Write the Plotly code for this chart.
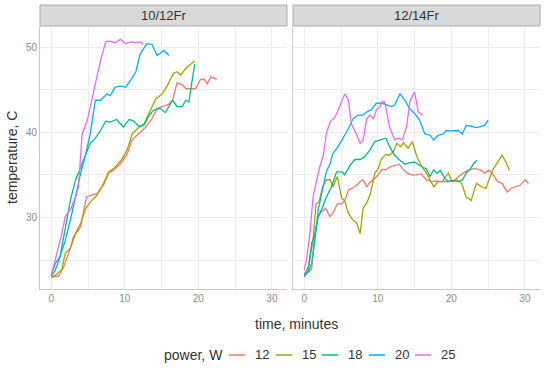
import plotly.graph_objects as go
from plotly.subplots import make_subplots

powers = ["12", "15", "18", "20", "25"]
colors = ["#F8766D", "#A3A500", "#00BF7D", "#00B0F6", "#E76BF3"]
panels = ["10/12Fr", "12/14Fr"]

# ---- panel 10/12Fr ----
t_a12 = [0, 1.0, 1.7, 2.6, 3.0, 4.0, 4.8, 5.3, 6.2, 7.1, 7.8, 8.45, 9.4, 10.3, 11.0, 11.9, 12.8, 13.7, 14.4, 15.3, 16.0, 16.5, 17.1, 17.8, 18.3, 19.0, 19.6, 20.3, 20.8, 21.2, 21.7, 22.5]
v_a12 = [23.0, 23.1, 24.2, 26.4, 27.7, 28.9, 32.4, 32.6, 32.8, 33.8, 35.2, 35.55, 36.3, 37.4, 39.1, 39.8, 40.55, 41.6, 42.8, 43.05, 43.3, 43.75, 45.8, 45.6, 45.1, 45.1, 45.1, 46.2, 46.2, 45.7, 46.5, 46.2]
t_a15 = [0, 0.55, 1.45, 1.9, 2.6, 3.3, 4.0, 4.6, 5.3, 6.2, 6.9, 7.8, 8.7, 9.65, 10.3, 11.0, 11.7, 12.6, 13.4, 14.2, 15.1, 15.8, 16.6, 17.1, 17.6, 18.3, 19.0, 19.5]
v_a15 = [23.0, 23.2, 23.9, 25.8, 26.4, 28.1, 29.3, 30.9, 31.8, 32.6, 33.6, 35.35, 35.9, 36.9, 37.9, 39.8, 40.4, 41.0, 42.4, 43.9, 44.5, 45.5, 46.9, 47.1, 46.7, 47.5, 48.0, 48.4]
t_a18 = [0, 0.55, 1.2, 1.9, 2.6, 3.3, 4.0, 4.6, 5.3, 6.0, 6.7, 7.4, 8.0, 8.9, 9.8, 10.6, 11.2, 11.9, 12.6, 13.3, 13.95, 14.8, 15.5, 16.5, 17.1, 17.8, 18.3, 18.7, 19.5]
v_a18 = [23.1, 23.8, 25.4, 28.5, 32.0, 34.4, 35.9, 37.1, 38.7, 39.3, 40.2, 41.3, 41.2, 41.5, 40.6, 41.5, 41.3, 40.7, 40.8, 42.0, 42.6, 42.8, 42.3, 43.75, 43.0, 43.0, 43.75, 43.55, 48.0]
t_a20 = [0, 0.55, 1.2, 1.9, 2.6, 3.3, 4.0, 4.6, 5.3, 6.0, 6.7, 7.6, 8.0, 8.7, 9.4, 10.1, 10.8, 11.5, 12.1, 13.0, 13.7, 14.4, 15.3, 16.0]
v_a20 = [23.2, 24.6, 25.4, 27.3, 29.7, 32.4, 35.2, 37.1, 39.8, 43.75, 43.75, 44.5, 44.3, 45.3, 45.4, 45.3, 46.1, 47.1, 49.2, 50.4, 50.3, 49.0, 49.6, 49.0]
t_a25 = [0, 0.55, 1.0, 1.45, 1.9, 2.6, 3.3, 3.7, 4.2, 4.9, 5.8, 6.7, 7.4, 8.0, 8.7, 9.4, 10.1, 10.8, 11.5, 12.1, 12.5]
v_a25 = [23.2, 25.0, 26.6, 28.1, 30.1, 30.9, 32.4, 33.6, 39.8, 41.4, 44.9, 48.4, 50.6, 50.7, 50.5, 50.9, 50.4, 50.6, 50.5, 50.6, 50.3]

# ---- panel 12/14Fr ----
t_b12 = [0, 0.55, 1.0, 1.45, 1.9, 2.35, 2.9, 3.5, 3.9, 4.5, 5.1, 5.5, 6.0, 6.4, 6.9, 7.6, 8.0, 8.5, 8.9, 9.6, 10.05, 10.5, 11.1, 11.6, 12.3, 12.9, 13.4, 14.0, 14.6, 15.25, 15.9, 16.6, 17.3, 17.9, 18.4, 19.1, 19.8, 20.5, 21.0, 21.6, 22.3, 22.9, 23.5, 24.1, 24.5, 25.1, 25.7, 26.3, 26.9, 27.6, 28.1, 28.8, 29.4, 30.0, 30.5]
v_b12 = [23.0, 23.6, 23.9, 28.1, 30.1, 30.7, 31.05, 30.1, 30.5, 31.6, 31.6, 32.0, 33.2, 33.4, 33.6, 34.2, 34.4, 33.6, 34.1, 34.6, 35.0, 35.6, 35.6, 35.9, 36.1, 36.25, 35.7, 35.2, 35.0, 35.0, 35.1, 34.4, 34.2, 34.3, 34.2, 34.2, 34.3, 34.4, 34.8, 35.2, 35.55, 35.7, 35.7, 35.5, 35.2, 35.55, 35.0, 34.2, 34.0, 33.0, 33.4, 33.6, 33.8, 34.4, 34.0]
t_b15 = [0, 0.55, 1.2, 1.6, 2.0, 2.5, 3.0, 3.5, 3.9, 4.5, 5.1, 5.5, 6.0, 6.6, 7.1, 7.6, 8.0, 8.55, 9.0, 9.6, 10.05, 10.5, 11.1, 11.6, 12.1, 12.6, 13.1, 13.5, 14.1, 14.7, 15.25, 15.9, 16.6, 17.1, 17.6, 18.2, 18.8, 19.2, 19.6, 20.1, 20.7, 21.4, 22.0, 22.7, 23.4, 24.1, 24.7, 25.2, 25.7, 26.3, 26.9, 27.4, 27.9]
v_b15 = [23.2, 24.2, 27.3, 31.6, 31.8, 33.6, 34.4, 34.45, 33.6, 34.8, 32.2, 32.0, 30.5, 29.7, 29.4, 28.1, 31.05, 31.8, 32.8, 35.2, 35.7, 36.9, 37.4, 37.3, 37.7, 38.7, 38.3, 38.75, 38.1, 38.9, 37.3, 36.1, 35.2, 34.4, 33.6, 34.2, 34.2, 34.8, 35.2, 34.2, 34.45, 34.0, 32.4, 32.0, 34.0, 33.6, 33.4, 34.6, 35.7, 36.5, 37.3, 36.5, 35.5]
t_b18 = [0, 0.55, 1.0, 1.45, 1.9, 2.35, 3.0, 3.7, 4.4, 5.1, 5.5, 6.2, 6.9, 7.6, 8.2, 8.9, 9.6, 10.3, 11.1, 11.6, 12.3, 13.0, 13.7, 14.3, 15.0, 15.7, 16.6, 17.1, 17.6, 18.05, 18.5, 19.1, 19.5, 20.2, 20.9, 21.5, 22.0, 22.6, 23.0, 23.5]
v_b18 = [23.1, 23.8, 26.95, 28.1, 30.1, 30.9, 32.4, 33.6, 35.35, 35.35, 35.0, 36.1, 36.8, 36.8, 37.1, 37.9, 38.9, 39.1, 39.3, 38.3, 37.3, 36.7, 36.25, 36.4, 36.5, 36.1, 35.7, 34.8, 35.6, 35.2, 35.5, 34.6, 34.2, 34.3, 34.2, 34.4, 35.2, 35.7, 36.3, 36.7]
t_b20 = [0, 0.55, 1.0, 1.45, 1.9, 2.6, 3.0, 3.5, 3.9, 4.6, 5.3, 6.0, 6.65, 7.3, 8.0, 8.5, 9.1, 9.8, 10.5, 11.2, 11.85, 12.3, 13.0, 13.7, 14.3, 15.0, 15.7, 16.4, 17.1, 17.6, 18.2, 18.9, 19.3, 19.8, 20.2, 20.9, 21.5, 22.0, 22.7, 23.4, 24.1, 24.5, 25.0]
v_b20 = [23.4, 23.6, 24.6, 27.3, 30.9, 33.6, 35.35, 36.3, 37.5, 38.3, 39.3, 40.4, 41.6, 42.0, 42.0, 42.4, 42.6, 43.4, 43.4, 43.2, 43.0, 43.2, 44.5, 43.75, 42.8, 42.2, 41.4, 39.8, 39.65, 39.1, 39.65, 39.8, 40.2, 40.15, 40.2, 40.2, 39.8, 40.8, 40.7, 40.55, 40.7, 40.8, 41.4]
t_b25 = [0, 0.3, 0.77, 1.2, 1.7, 2.1, 2.6, 3.0, 3.5, 4.2, 4.8, 5.5, 6.0, 6.4, 7.1, 7.6, 8.0, 8.5, 8.9, 9.4, 9.8, 10.3, 10.5, 10.95, 11.6, 12.3, 12.8, 13.35, 13.9, 14.4, 15.0, 15.5, 16.1]
v_b25 = [23.8, 25.0, 28.1, 32.4, 34.4, 35.9, 37.3, 39.8, 41.2, 41.8, 43.0, 44.5, 43.75, 41.0, 39.8, 38.7, 39.1, 41.6, 42.0, 41.6, 42.6, 43.0, 43.55, 43.55, 40.6, 39.1, 39.3, 39.1, 40.6, 43.75, 44.7, 42.4, 42.0]

times = [[t_a12, t_a15, t_a18, t_a20, t_a25], [t_b12, t_b15, t_b18, t_b20, t_b25]]
temps = [[v_a12, v_a15, v_a18, v_a20, v_a25], [v_b12, v_b15, v_b18, v_b20, v_b25]]

x_ticks = [0, 10, 20, 30]
y_ticks = [30, 40, 50]

FONT = "Liberation Sans, Arial, sans-serif"
W, H = 550, 368
ML, MR, MT, MB = 40, 10, 27, 79
PW, PH = W - ML - MR, H - MT - MB


def px(x):
    return (x - ML) / PW


def py(y):
    return (H - MB - y) / PH


fig = make_subplots(rows=1, cols=2, shared_yaxes=True, horizontal_spacing=0.012)

for p in range(2):
    for i, pw in enumerate(powers):
        fig.add_trace(go.Scatter(
            x=times[p][i], y=temps[p][i], mode="lines", name=pw,
            showlegend=False, line=dict(color=colors[i], width=1.3)), row=1, col=p + 1)

grid = "#EBEBEB"
axis_common = dict(showgrid=True, gridcolor=grid, gridwidth=1.1, zeroline=False,
                   showline=True, linecolor="#C8C8C8", linewidth=1, automargin=False,
                   tickfont=dict(family=FONT, size=10, color="#8C8C8C"), ticks="")
for c in (1, 2):
    fig.update_xaxes(range=[-1.53, 32.05], tickvals=x_ticks,
                     minor=dict(dtick=5, tick0=0, showgrid=True, gridcolor=grid, gridwidth=0.7),
                     **axis_common, row=1, col=c)
    fig.update_yaxes(range=[21.6, 52.35], tickvals=y_ticks,
                     minor=dict(dtick=5, tick0=25, showgrid=True, gridcolor=grid, gridwidth=0.7),
                     **axis_common, row=1, col=c)
fig.update_yaxes(showticklabels=False, row=1, col=2)

fig.update_layout(
    width=W, height=H,
    margin=dict(l=ML, r=MR, t=MT, b=MB, autoexpand=False),
    plot_bgcolor="white", paper_bgcolor="white",
    font=dict(family=FONT, color="#333333"),
    showlegend=False,
)

# strips
doms = [fig.layout.xaxis.domain, fig.layout.xaxis2.domain]
for d, name in zip(doms, panels):
    fig.add_shape(type="rect", xref="paper", yref="paper", x0=d[0], x1=d[1],
                  y0=py(26), y1=py(5), fillcolor="#D9D9D9", line=dict(color="#ABABAB", width=1))
    fig.add_annotation(x=(d[0] + d[1]) / 2, y=py(15.5), xref="paper", yref="paper",
                       text=name, showarrow=False, font=dict(size=13, color="#333333"),
                       xanchor="center", yanchor="middle")

fig.add_annotation(x=px(296), y=py(324), xref="paper", yref="paper", text="time, minutes",
                   showarrow=False, font=dict(size=14, color="#333333"),
                   xanchor="center", yanchor="middle")
fig.add_annotation(x=px(12), y=py(158), xref="paper", yref="paper", text="temperature, C",
                   showarrow=False, textangle=-90, font=dict(size=14, color="#333333"),
                   xanchor="center", yanchor="middle")

# legend (drawn as keys + labels)
LEG_Y = 355
fig.add_annotation(x=px(162), y=py(LEG_Y), xref="paper", yref="paper", text="power, W",
                   showarrow=False, font=dict(size=14, color="#333333"),
                   xanchor="left", yanchor="middle")
key_x0 = [229, 276, 322, 369, 415]
for i, pw in enumerate(powers):
    fig.add_shape(type="line", xref="paper", yref="paper",
                  x0=px(key_x0[i]), x1=px(key_x0[i] + 16), y0=py(LEG_Y), y1=py(LEG_Y),
                  line=dict(color=colors[i], width=1.5))
    fig.add_annotation(x=px(key_x0[i] + 24), y=py(LEG_Y), xref="paper", yref="paper",
                       text=pw, showarrow=False, font=dict(size=13, color="#333333"),
                       xanchor="left", yanchor="middle")

fig.write_html("out.html", config={"displayModeBar": False},
               post_script="document.body.style.margin='0px';")
